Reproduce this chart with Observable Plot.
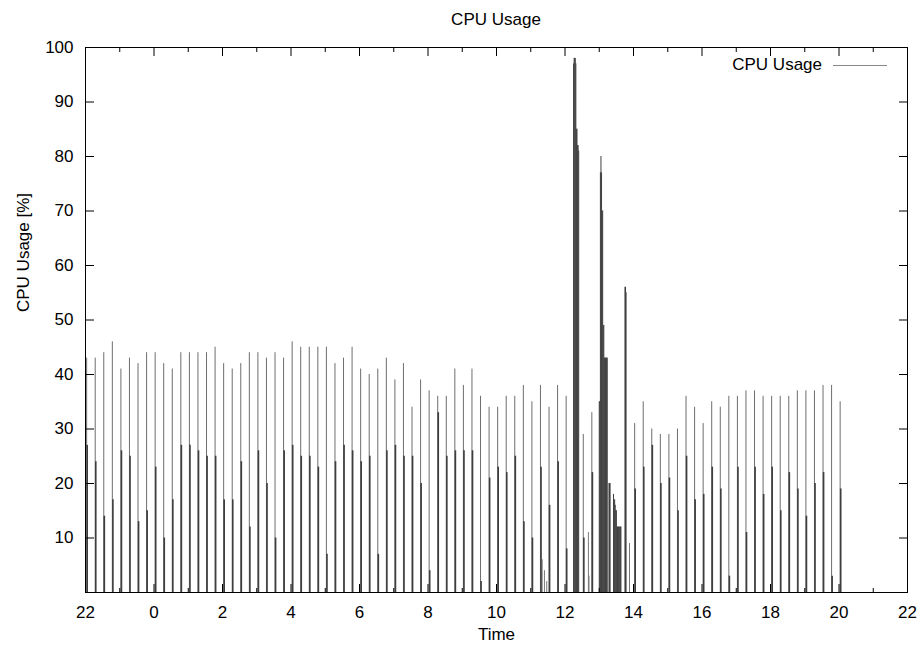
<!DOCTYPE html>
<html>
<head>
<meta charset="utf-8">
<script src="https://cdn.jsdelivr.net/npm/d3@7"></script>
<script src="https://cdn.jsdelivr.net/npm/@observablehq/plot@0.6"></script>
<style>
  body { margin: 0; background: #fff; font-family: "Liberation Sans", Arial, sans-serif; color: #000; }
  #wrap { position: relative; width: 922px; height: 650px; overflow: hidden; }
  #title { height: 30px; line-height: 40px; text-align: center; font-size: 17px; padding-left: 70px; box-sizing: border-box; width: 922px; overflow: visible; white-space: nowrap; }
  #legend-text { position: absolute; left: 0; top: 55px; width: 822px; height: 20px; line-height: 20px; text-align: right; font-size: 17px; }
  #legend-line { position: absolute; left: 833px; top: 65px; width: 54px; height: 0; border-top: 1px solid #888; }
  #chart svg { overflow: visible; display: block; }
</style>
</head>
<body>
<div id="wrap">
  <div id="title">CPU Usage</div>
  <div id="chart"></div>
  <div id="legend-text">CPU Usage</div>
  <div id="legend-line"></div>
</div>
<script>
// ---- Data ----
// Regular sampling spikes: one every 15 minutes starting 22:02
const sampleStart = "22:02";
const sampleStepMinutes = 15;

// Peak value of each 15-minute spike (null where the burst data below covers it)
const peakValues = [
  43,43,44,46,41,43,42,44,44,42,41,44,44,44,44,45,42,41,42,44,44,43,44,43,46,45,45,45,45,42,43,
  45,41,40,41,43,39,42,34,39,37,36,36,41,38,41,36,34,34,36,36,38,35,38,34,38,36,
  null,29,33,null,null,null,null,31,
  35,30,29,29,30,36,34,31,35,34,36,36,37,37,36,36,36,36,37,37,37,38,38,35
];
// Value of the sample right after each peak (one minute later)
const followValues = [
  27,24,14,17,26,25,13,15,23,10,17,27,27,26,25,25,17,17,24,12,26,20,10,26,27,25,25,23,7,24,27,
  26,24,25,7,26,27,25,25,20,4,33,25,26,26,26,2,21,23,22,25,13,10,23,16,24,8,
  null,10,22,null,null,null,null,19,
  23,27,20,21,15,25,17,18,23,19,3,23,11,23,18,23,15,22,19,14,20,22,3,19
];

// Minute-by-minute values during the high-load bursts around 12:15 and 13:00
const burstTimes = [
  "12:15","12:16","12:17","12:18","12:19","12:20","12:21","12:22","12:23","12:24",
  "13:00","13:01","13:02","13:03","13:04","13:05","13:06","13:07","13:08","13:09","13:10","13:11","13:12","13:13","13:14",
  "13:17","13:18","13:19",
  "13:25","13:26","13:27","13:28","13:29","13:30","13:31","13:32","13:33","13:34","13:35","13:36","13:37","13:38",
  "13:45","13:46","13:47"
];
const burstValues = [
  97,98,98,98,97,85,85,82,82,81,
  35,35,77,80,77,70,70,49,49,43,43,43,43,43,43,
  20,20,20,
  18,17,17,16,15,15,12,12,12,12,12,12,12,12,
  56,56,55
];

// Small isolated samples
const extraTimes = ["11:20","11:24","11:28","12:41","12:42","13:53"];
const extraValues = [6,4,2,11,3,9];

// Axis ticks
const xTickHours = [22,24,26,28,30,32,34,36,38,40,42,44,46];
const xMinorHours = [23,25,27,29,31,33,35,37,39,41,43,45];
const yTickValues = [10,20,30,40,50,60,70,80,90,100];

// ---- Build tables ----
function toHours(hhmm) {
  const [h, m] = hhmm.split(":").map(Number);
  let v = h + m / 60;
  if (v < 22) v += 24;
  return v;
}
const startH = toHours(sampleStart);
const peakData = peakValues.map((v, i) => ({t: startH + i * sampleStepMinutes / 60, v}));
const followData = followValues.map((v, i) => ({t: startH + (i * sampleStepMinutes + 1) / 60, v}));
const burstData = burstTimes.map((s, i) => ({t: toHours(s), v: burstValues[i]}));
const extraData = extraTimes.map((s, i) => ({t: toHours(s), v: extraValues[i]}));

const chart = Plot.plot({
  width: 922,
  height: 620,
  marginLeft: 85,
  marginRight: 15,
  marginTop: 17,
  marginBottom: 58,
  style: {fontFamily: "'Liberation Sans', Arial, sans-serif", fontSize: "17px", color: "#000", background: "#fff"},
  x: {domain: [22, 46]},
  y: {domain: [0, 100]},
  marks: [
    Plot.ruleX(extraData, {x: "t", y1: 0, y2: "v", stroke: "#777", strokeWidth: 1}),
    Plot.ruleX(peakData, {x: "t", y1: 0, y2: "v", stroke: "#6e6e6e", strokeWidth: 1}),
    Plot.ruleX(followData, {x: "t", y1: 0, y2: "v", stroke: "#3e3e3e", strokeWidth: 1.6}),
    Plot.ruleX(burstData, {x: "t", y1: 0, y2: "v", stroke: "#404040", strokeWidth: 1}),
    Plot.frame({stroke: "#000"}),
    Plot.axisX({anchor: "bottom", ticks: xTickHours, tickSize: 0, tickPadding: 13, tickFormat: d => String(d % 24), label: null}),
    Plot.axisX({anchor: "bottom", ticks: xTickHours, tickSize: 8, dy: -8, fill: "none"}),
    Plot.axisX({anchor: "bottom", ticks: xMinorHours, tickSize: 4, dy: -4, fill: "none"}),
    Plot.axisX({anchor: "top", ticks: xTickHours, tickSize: 8, dy: 8, fill: "none"}),
    Plot.axisX({anchor: "top", ticks: xMinorHours, tickSize: 4, dy: 4, fill: "none"}),
    Plot.axisY({anchor: "left", ticks: yTickValues, tickSize: 0, tickPadding: 12, label: null}),
    Plot.axisY({anchor: "left", ticks: yTickValues, tickSize: 9, dx: 9, fill: "none"}),
    Plot.axisY({anchor: "right", ticks: yTickValues, tickSize: 9, dx: -9, fill: "none"}),
    Plot.text(["Time"], {frameAnchor: "bottom", dy: 47, fontSize: 17}),
    Plot.text(["CPU Usage [%]"], {frameAnchor: "left", rotate: -90, dx: -62, dy: -8, fontSize: 17})
  ]
});
document.getElementById("chart").appendChild(chart);
</script>
</body>
</html>
